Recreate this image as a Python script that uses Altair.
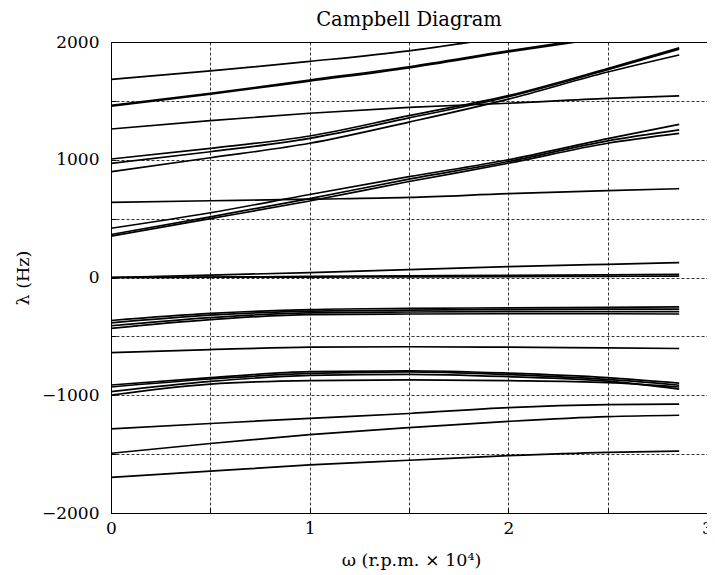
import altair as alt
import pandas as pd

# speed axis (r.p.m. x 10^4)
omega = [0, 0.5, 1, 1.5, 2, 2.5, 2.86]

# eigenfrequencies (Hz) of each mode
D  = [1683, 1754, 1835, 1925, 2045, 2160, 2250]
E1 = [1462, 1564, 1677, 1790, 1925, 2050, 2140]
E2 = [1455, 1556, 1668, 1781, 1915, 2040, 2130]
B  = [1261, 1332, 1395, 1445, 1480, 1522, 1542]
C1 = [1006, 1097, 1202, 1375, 1545, 1775, 1950]
C2 = [970, 1068, 1182, 1355, 1535, 1765, 1940]
C3 = [899, 1017, 1140, 1320, 1515, 1745, 1890]
A  = [638, 652, 665, 680, 712, 738, 754]
F1 = [418, 550, 705, 856, 1000, 1180, 1300]
F2 = [365, 515, 670, 835, 985, 1160, 1253]
F3 = [352, 500, 650, 815, 970, 1140, 1224]
Z1 = [0, 20, 42, 67, 92, 112, 126]
Z2 = [0, 4, 9, 14, 19, 23, 26]
Z3 = [0, 2, 4, 6, 8, 10, 12]
G1 = [-365, -305, -272, -262, -258, -254, -250]
G2 = [-385, -320, -285, -277, -272, -268, -268]
G3 = [-410, -340, -300, -293, -290, -289, -290]
G4 = [-432, -358, -315, -310, -308, -308, -310]
H  = [-638, -612, -592, -588, -592, -598, -603]
I1 = [-913, -850, -800, -792, -812, -850, -897]
I2 = [-930, -862, -815, -802, -825, -866, -915]
I3 = [-970, -882, -832, -822, -842, -880, -948]
I4 = [-998, -905, -876, -870, -876, -892, -930]
J  = [-1285, -1240, -1196, -1155, -1105, -1080, -1076]
K  = [-1493, -1410, -1335, -1275, -1222, -1182, -1170]
L  = [-1697, -1645, -1592, -1552, -1513, -1485, -1475]

modes = {
    "D": D, "E1": E1, "E2": E2, "B": B, "C1": C1, "C2": C2, "C3": C3,
    "A": A, "F1": F1, "F2": F2, "F3": F3, "Z1": Z1, "Z2": Z2, "Z3": Z3,
    "G1": G1, "G2": G2, "G3": G3, "G4": G4, "H": H,
    "I1": I1, "I2": I2, "I3": I3, "I4": I4, "J": J, "K": K, "L": L,
}

rows = []
for name, vals in modes.items():
    for w, v in zip(omega, vals):
        rows.append({"mode": name, "omega": w, "lam": v})
df = pd.DataFrame(rows)

x_ticks = [0, 0.5, 1, 1.5, 2, 2.5, 3]
y_ticks = [-2000, -1500, -1000, -500, 0, 500, 1000, 1500, 2000]

FONT = "DejaVu Serif"

chart = alt.Chart(df).mark_line(
    color="black", strokeWidth=1.7, interpolate="monotone", clip=True
).encode(
    x=alt.X("omega:Q",
            scale=alt.Scale(domain=[0, 3], nice=False, zero=False),
            axis=alt.Axis(values=x_ticks,
                          labelExpr="datum.value % 1 === 0 ? format(datum.value, 'd') : ''",
                          title="ω (r.p.m. × 10⁴)",
                          offset=-5, tickSize=5, domain=False,
                          labelFlush=False, labelOverlap=False,
                          labelPadding=7, titlePadding=15,
                          titleX=300, titleAlign="center")),
    y=alt.Y("lam:Q",
            scale=alt.Scale(domain=[-2000, 2000], nice=False, zero=False),
            axis=alt.Axis(values=y_ticks,
                          labelExpr="datum.value % 1000 === 0 ? format(datum.value, 'd') : ''",
                          title="λ (Hz)",
                          offset=-5, tickSize=5, domain=False,
                          labelFlush=False, labelOverlap=False,
                          labelPadding=12, titlePadding=9)),
    detail="mode:N",
).properties(
    width=596,
    height=471,
    title=alt.TitleParams("Campbell Diagram", font=FONT, fontSize=19.5,
                          fontWeight="normal", color="black",
                          frame="group", offset=3),
    autosize=alt.AutoSizeParams(type="none"),
    padding={"left": 103, "top": 34, "right": 0, "bottom": 60},
).configure_view(
    stroke="black", strokeWidth=1
).configure_axis(
    grid=True, gridColor="black", gridDash=[3, 2], gridWidth=0.8, gridOpacity=1,
    tickColor="black", tickWidth=1,
    labelFont=FONT, labelFontSize=17, labelColor="black",
    titleFont=FONT, titleFontSize=17.5, titleFontWeight="normal", titleColor="black",
)

chart.save("out.html", embed_options={"renderer": "svg", "actions": False})
